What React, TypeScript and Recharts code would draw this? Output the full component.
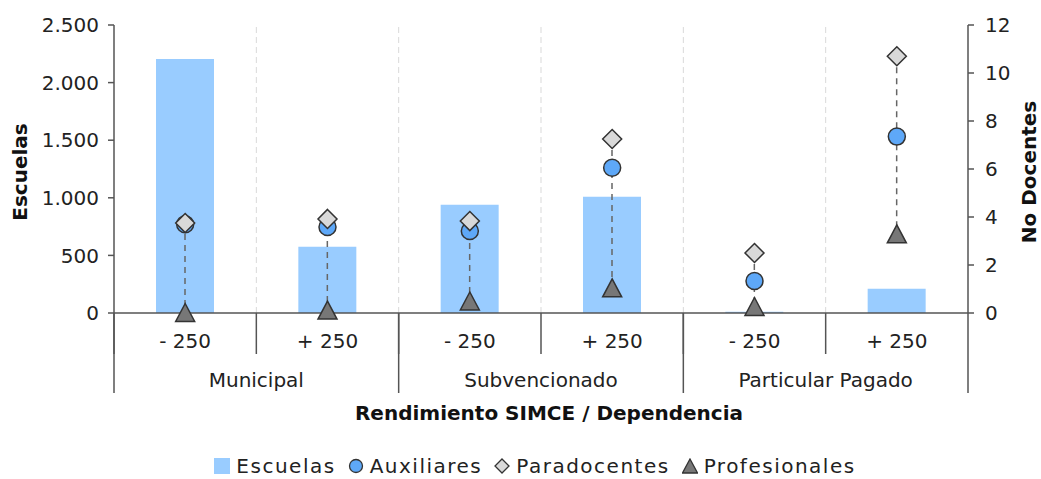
import { ComposedChart, Bar, Line, XAxis, YAxis, ReferenceLine, Legend } from 'recharts';

// categorias (nivel SIMCE dentro de cada dependencia)
const grupos = ['Municipal', 'Municipal', 'Subvencionado', 'Subvencionado', 'Particular Pagado', 'Particular Pagado'];
const niveles = ['- 250', '+ 250', '- 250', '+ 250', '- 250', '+ 250'];

// series
const escuelas = [2205, 575, 940, 1010, 10, 210];
const auxiliares = [3.7, 3.58, 3.42, 6.05, 1.33, 7.35];
const paradocentes = [3.75, 3.92, 3.83, 7.25, 2.5, 10.7];
const profesionales = [0.02, 0.12, 0.5, 1.05, 0.27, 3.3];

const ticksEscuelas = [0, 500, 1000, 1500, 2000, 2500];
const ticksDocentes = [0, 2, 4, 6, 8, 10, 12];

const data = niveles.map((nivel, i) => ({
    id: `${grupos[i]} ${nivel}`,
    grupo: grupos[i],
    nivel,
    escuelas: escuelas[i],
    auxiliares: auxiliares[i],
    paradocentes: paradocentes[i],
    profesionales: profesionales[i],
    rango: [
        Math.min(auxiliares[i], paradocentes[i], profesionales[i]),
        Math.max(auxiliares[i], paradocentes[i], profesionales[i]),
    ],
}));

const FONT = '"DejaVu Sans", Verdana, sans-serif';
const AXIS = '#555';
const TEXT = '#222';
const BAR_FILL = '#99ccff';
const AUX_FILL = '#5ea8f8';
const PARA_FILL = '#d9d9d9';
const PROF_FILL = '#777777';
const MARK_STROKE = '#333';

const fmtMiles = (v: number) => String(v).replace(/\B(?=(\d{3})+(?!\d))/g, '.');

// eje x de dos niveles: nivel SIMCE arriba, dependencia abajo
const CategoryTick = (props: any) => {
    const { x, y, payload, index } = props;
    const half = payload?.offset ?? 71;
    const row = data[index];
    if (!row) return null;
    const last = index === data.length - 1;
    return (
        <g>
            <text x={x} y={y + 35} textAnchor="middle" fontSize={20} fill={TEXT} fontFamily={FONT}>
                {row.nivel}
            </text>
            <line x1={x - half} x2={x - half} y1={y} y2={y + 41} stroke={AXIS} strokeWidth={1.5} />
            {index % 2 === 0 && (
                <>
                    <line x1={x - half} x2={x - half} y1={y} y2={y + 80} stroke={AXIS} strokeWidth={1.5} />
                    <text x={x + half} y={y + 74} textAnchor="middle" fontSize={20} fill={TEXT} fontFamily={FONT}>
                        {row.grupo}
                    </text>
                </>
            )}
            {last && <line x1={x + half} x2={x + half} y1={y} y2={y + 80} stroke={AXIS} strokeWidth={1.5} />}
        </g>
    );
};

const DashShape = (props: any) => {
    const { x, y, width, height } = props;
    if (x == null || y == null) return null;
    const cx = x + width / 2;
    const top = Math.min(y, y + height);
    return (
        <line
            x1={cx}
            x2={cx}
            y1={top}
            y2={top + Math.abs(height)}
            stroke="#666"
            strokeWidth={1.5}
            strokeDasharray="6 5"
        />
    );
};

const CircleDot = (props: any) => {
    const { cx, cy, index } = props;
    if (cx == null || cy == null) return <g key={`a-${index}`} />;
    return <circle key={`a-${index}`} cx={cx} cy={cy} r={8.5} fill={AUX_FILL} stroke={MARK_STROKE} strokeWidth={1.5} />;
};

const DiamondDot = (props: any) => {
    const { cx, cy, index } = props;
    if (cx == null || cy == null) return <g key={`p-${index}`} />;
    const r = 9.5;
    return (
        <polygon
            key={`p-${index}`}
            points={`${cx},${cy - r} ${cx + r},${cy} ${cx},${cy + r} ${cx - r},${cy}`}
            fill={PARA_FILL}
            stroke={MARK_STROKE}
            strokeWidth={1.5}
        />
    );
};

const TriangleDot = (props: any) => {
    const { cx, cy, index } = props;
    if (cx == null || cy == null) return <g key={`t-${index}`} />;
    const w = 9.5;
    const h = 9;
    return (
        <polygon
            key={`t-${index}`}
            points={`${cx},${cy - h} ${cx + w},${cy + h} ${cx - w},${cy + h}`}
            fill={PROF_FILL}
            stroke={MARK_STROKE}
            strokeWidth={1.5}
        />
    );
};

const legendItems = [
    { name: 'Escuelas', icon: <rect x={0} y={0} width={16} height={16} fill={BAR_FILL} /> },
    { name: 'Auxiliares', icon: <circle cx={8} cy={8} r={6.5} fill={AUX_FILL} stroke={MARK_STROKE} strokeWidth={1.3} /> },
    { name: 'Paradocentes', icon: <polygon points="8,1 15,8 8,15 1,8" fill={PARA_FILL} stroke={MARK_STROKE} strokeWidth={1.3} /> },
    { name: 'Profesionales', icon: <polygon points="8,1 15.5,15 0.5,15" fill={PROF_FILL} stroke={MARK_STROKE} strokeWidth={1.3} /> },
];

const LegendContent = () => (
    <div
        style={{
            display: 'flex',
            justifyContent: 'center',
            alignItems: 'center',
            height: 26,
            lineHeight: '26px',
            whiteSpace: 'nowrap',
            fontFamily: FONT,
            fontSize: 20,
            letterSpacing: 1.5,
            color: TEXT,
        }}
    >
        {legendItems.map((item) => (
            <span key={item.name} style={{ display: 'flex', alignItems: 'center', marginRight: 12 }}>
                <svg width={16} height={16} style={{ marginRight: 6, flex: 'none' }}>
                    {item.icon}
                </svg>
                <span>{item.name}</span>
            </span>
        ))}
    </div>
);

const axisTitle = (text: string, side: 'left' | 'right') => (props: any) => {
    const vb = props.viewBox || {};
    const cx = side === 'left' ? vb.x + 20 : vb.x + 61;
    const cy = vb.y + vb.height / 2 + 3;
    return (
        <text
            x={cx}
            y={cy}
            transform={`rotate(-90, ${cx}, ${cy})`}
            textAnchor="middle"
            dominantBaseline="central"
            fontSize={20}
            fontWeight="bold"
            fill="#111"
            fontFamily={FONT}
        >
            {text}
        </text>
    );
};

const xTitle = (props: any) => {
    const vb = props.viewBox || {};
    return (
        <text
            x={vb.x + vb.width / 2 + 8}
            y={vb.y + 107}
            textAnchor="middle"
            fontSize={20}
            fontWeight="bold"
            fill="#111"
            fontFamily={FONT}
        >
            Rendimiento SIMCE / Dependencia
        </text>
    );
};

export default function App() {
    return (
        <div style={{ width: 1041, height: 479, background: '#fff' }}>
            <style>{'body { margin: 0; }'}</style>
            <ComposedChart
                width={1041}
                height={479}
                data={data}
                margin={{ top: 25, right: 0, bottom: 0, left: 0 }}
                style={{ fontFamily: FONT }}
            >
                <XAxis
                    xAxisId="main"
                    dataKey="id"
                    height={140}
                    interval={0}
                    stroke={AXIS}
                    strokeWidth={1.5}
                    tickLine={false}
                    tickSize={0}
                    tickMargin={0}
                    tick={<CategoryTick />}
                    label={xTitle}
                />
                <XAxis xAxisId="rng" dataKey="id" hide />
                <YAxis
                    yAxisId="left"
                    width={114}
                    domain={[0, 2500]}
                    ticks={ticksEscuelas}
                    tickFormatter={fmtMiles}
                    stroke={AXIS}
                    strokeWidth={1.5}
                    tickSize={6}
                    tickMargin={9}
                    tick={{ fontSize: 20, fill: TEXT, fontFamily: FONT }}
                    label={axisTitle('Escuelas', 'left')}
                />
                <YAxis
                    yAxisId="right"
                    orientation="right"
                    width={73}
                    domain={[0, 12]}
                    ticks={ticksDocentes}
                    stroke={AXIS}
                    strokeWidth={1.5}
                    tickSize={6}
                    tickMargin={11}
                    tick={{ fontSize: 20, fill: TEXT, fontFamily: FONT }}
                    label={axisTitle('No Docentes', 'right')}
                />
                {data.slice(1).map((d) => (
                    <ReferenceLine
                        key={d.id}
                        x={d.id}
                        xAxisId="main"
                        yAxisId="left"
                        position="start"
                        stroke="#d9d9d9"
                        strokeDasharray="6 4"
                    />
                ))}
                <Legend
                    verticalAlign="bottom"
                    content={<LegendContent />}
                    wrapperStyle={{ left: 114, width: 854, bottom: 0 }}
                />
                <Bar
                    xAxisId="main"
                    yAxisId="left"
                    dataKey="escuelas"
                    fill={BAR_FILL}
                    barSize={58}
                    isAnimationActive={false}
                />
                <Bar
                    xAxisId="rng"
                    yAxisId="right"
                    dataKey="rango"
                    shape={<DashShape />}
                    barSize={10}
                    legendType="none"
                    isAnimationActive={false}
                />
                <Line
                    xAxisId="main"
                    yAxisId="right"
                    dataKey="profesionales"
                    stroke="none"
                    dot={TriangleDot}
                    activeDot={false}
                    legendType="none"
                    isAnimationActive={false}
                />
                <Line
                    xAxisId="main"
                    yAxisId="right"
                    dataKey="auxiliares"
                    stroke="none"
                    dot={CircleDot}
                    activeDot={false}
                    legendType="none"
                    isAnimationActive={false}
                />
                <Line
                    xAxisId="main"
                    yAxisId="right"
                    dataKey="paradocentes"
                    stroke="none"
                    dot={DiamondDot}
                    activeDot={false}
                    legendType="none"
                    isAnimationActive={false}
                />
            </ComposedChart>
        </div>
    );
}
